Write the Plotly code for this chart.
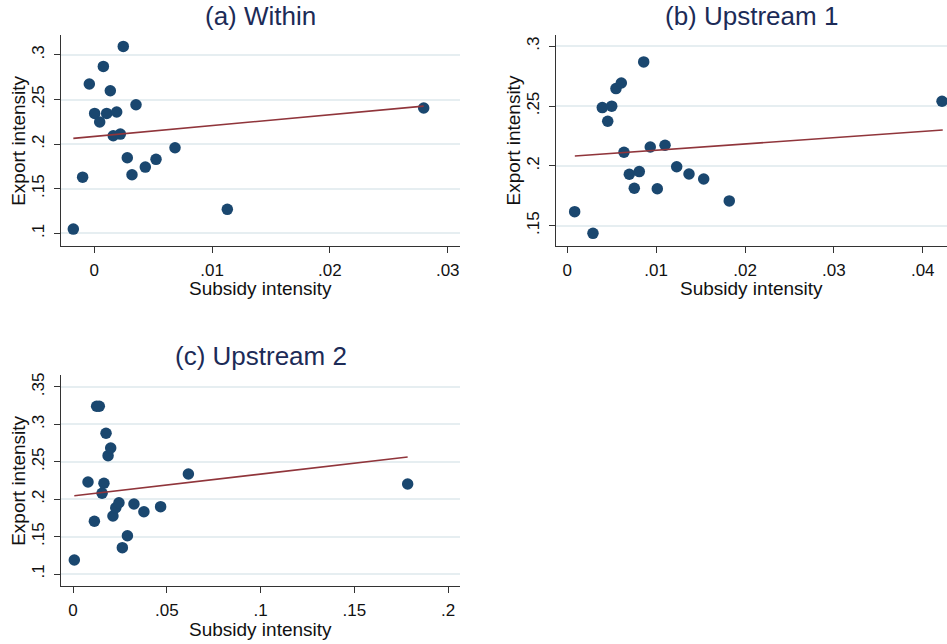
import plotly.graph_objects as go

# ---------------- data ----------------
within_x = [-0.00178, -0.00099, -0.00042, 0.00003, 0.00046, 0.00077, 0.00105, 0.00136,
            0.00161, 0.0019, 0.00221, 0.00246, 0.0028, 0.0032, 0.00354, 0.00433,
            0.00524, 0.00685, 0.01129, 0.02796]
within_y = [0.1048, 0.163, 0.2674, 0.2345, 0.2248, 0.2872, 0.2345, 0.2599,
            0.2094, 0.236, 0.2113, 0.3096, 0.1848, 0.1657, 0.2442, 0.1743,
            0.183, 0.196, 0.1269, 0.2405]
within_fit_x = [-0.00178, 0.02796]
within_fit_y = [0.2065, 0.2427]

up1_x = [0.00083, 0.00289, 0.00394, 0.00455, 0.005, 0.00548, 0.00608, 0.00638,
         0.00698, 0.00754, 0.0081, 0.0086, 0.00934, 0.01013, 0.011, 0.01231,
         0.0137, 0.01535, 0.01823, 0.04217]
up1_y = [0.1617, 0.1436, 0.2487, 0.2373, 0.2499, 0.2646, 0.2693, 0.2114,
         0.193, 0.1813, 0.1952, 0.2869, 0.2158, 0.1809, 0.2172, 0.1993,
         0.1932, 0.189, 0.1707, 0.254]
up1_fit_x = [0.00085, 0.04225]
up1_fit_y = [0.2083, 0.2300]

up2_x = [0.0007, 0.008, 0.0114, 0.0126, 0.014, 0.0155, 0.0165, 0.0176, 0.0187,
         0.0201, 0.0213, 0.0228, 0.0245, 0.0263, 0.029, 0.0325, 0.0378, 0.0467,
         0.0615, 0.1784]
up2_y = [0.1187, 0.223, 0.1705, 0.3242, 0.3242, 0.2079, 0.2213, 0.2881, 0.2582,
         0.2684, 0.1775, 0.1886, 0.1953, 0.1352, 0.1512, 0.1936, 0.1833, 0.19,
         0.2337, 0.2203]
up2_fit_x = [0.0007, 0.1784]
up2_fit_y = [0.2047, 0.2564]

panel_titles = ["(a) Within", "(b) Upstream 1", "(c) Upstream 2"]
x_label = "Subsidy intensity"
y_label = "Export intensity"

a_xticks = [0, 0.01, 0.02, 0.03]
a_xtext = ["0", ".01", ".02", ".03"]
a_yticks = [0.1, 0.15, 0.2, 0.25, 0.3]
a_ytext = [".1", ".15", ".2", ".25", ".3"]

b_xticks = [0, 0.01, 0.02, 0.03, 0.04]
b_xtext = ["0", ".01", ".02", ".03", ".04"]
b_yticks = [0.15, 0.2, 0.25, 0.3]
b_ytext = [".15", ".2", ".25", ".3"]

c_xticks = [0, 0.05, 0.1, 0.15, 0.2]
c_xtext = ["0", ".05", ".1", ".15", ".2"]
c_yticks = [0.1, 0.15, 0.2, 0.25, 0.3, 0.35]
c_ytext = [".1", ".15", ".2", ".25", ".3", ".35"]

# ---------------- styling ----------------
W, H = 947, 644
MARKER = "#1a476f"
FIT = "#90353b"
GRID = "#e6eef1"
TITLE_C = "#1c2b57"
FONT = "Liberation Sans, Arial, sans-serif"

fig = go.Figure()

panels = [
    dict(x=within_x, y=within_y, fx=within_fit_x, fy=within_fit_y,
         xt=a_xticks, xtt=a_xtext, yt=a_yticks, ytt=a_ytext,
         px=(61.3, 460), py=(35, 246), xr=(-0.0028, 0.03104), yr=(0.0858, 0.3224)),
    dict(x=up1_x, y=up1_y, fx=up1_fit_x, fy=up1_fit_y,
         xt=b_xticks, xtt=b_xtext, yt=b_yticks, ytt=b_ytext,
         px=(556, 947), py=(35, 246), xr=(-0.00127, 0.04273), yr=(0.133, 0.3094)),
    dict(x=up2_x, y=up2_y, fx=up2_fit_x, fy=up2_fit_y,
         xt=c_xticks, xtt=c_xtext, yt=c_yticks, ytt=c_ytext,
         px=(61.3, 460), py=(375, 586), xr=(-0.00624, 0.2063), yr=(0.084, 0.366)),
]

annotations = []
for i, p in enumerate(panels):
    n = "" if i == 0 else str(i + 1)
    xa, ya = "x" + n, "y" + n
    fig.add_trace(go.Scatter(x=p["x"], y=p["y"], mode="markers", xaxis=xa, yaxis=ya,
                             marker=dict(color=MARKER, size=11.5, line=dict(width=0)),
                             showlegend=False, cliponaxis=False))
    fig.add_trace(go.Scatter(x=p["fx"], y=p["fy"], mode="lines",
                             xaxis=xa, yaxis=ya, line=dict(color=FIT, width=1.6),
                             showlegend=False))
    x0, x1 = p["px"]
    y0, y1 = p["py"]
    common = dict(showline=True, linecolor="#333333", linewidth=1.3, ticks="outside",
                  ticklen=6, tickwidth=1.2, tickcolor="#333333", zeroline=False,
                  tickfont=dict(family=FONT, size=17, color="#111111"), automargin=False)
    fig.layout["xaxis" + n] = dict(domain=[x0 / W, x1 / W], range=list(p["xr"]),
                                   anchor=ya, tickvals=p["xt"], ticktext=p["xtt"],
                                   showgrid=False, ticklabelstandoff=2, **common)
    fig.layout["yaxis" + n] = dict(domain=[1 - y1 / H, 1 - y0 / H], range=list(p["yr"]),
                                   anchor=xa, tickvals=p["yt"], ticktext=p["ytt"],
                                   tickangle=-90, showgrid=True, gridcolor=GRID,
                                   gridwidth=1.5, ticklabelstandoff=3, **common)
    annotations.append(dict(text=panel_titles[i], x=(x0 + x1) / 2 / W, y=1 - (y0 - 19) / H,
                            xref="paper", yref="paper", showarrow=False,
                            xanchor="center", yanchor="middle",
                            font=dict(family=FONT, size=26, color=TITLE_C)))
    annotations.append(dict(text=x_label, x=(x0 + x1) / 2 / W, y=1 - (y1 + 43) / H,
                            xref="paper", yref="paper", showarrow=False,
                            xanchor="center", yanchor="middle",
                            font=dict(family=FONT, size=19, color="#111111")))
    annotations.append(dict(text=y_label, x=(x0 - 43) / W, y=1 - (y0 + y1) / 2 / H,
                            xref="paper", yref="paper", showarrow=False, textangle=-90,
                            xanchor="center", yanchor="middle",
                            font=dict(family=FONT, size=19, color="#111111")))

fig.update_layout(width=W, height=H, margin=dict(l=0, r=0, t=0, b=0),
                  paper_bgcolor="white", plot_bgcolor="white",
                  annotations=annotations, font=dict(family=FONT))
fig.write_html("out.html", config={"displayModeBar": False},
               post_script="document.body.style.margin='0';document.body.style.padding='0';")
